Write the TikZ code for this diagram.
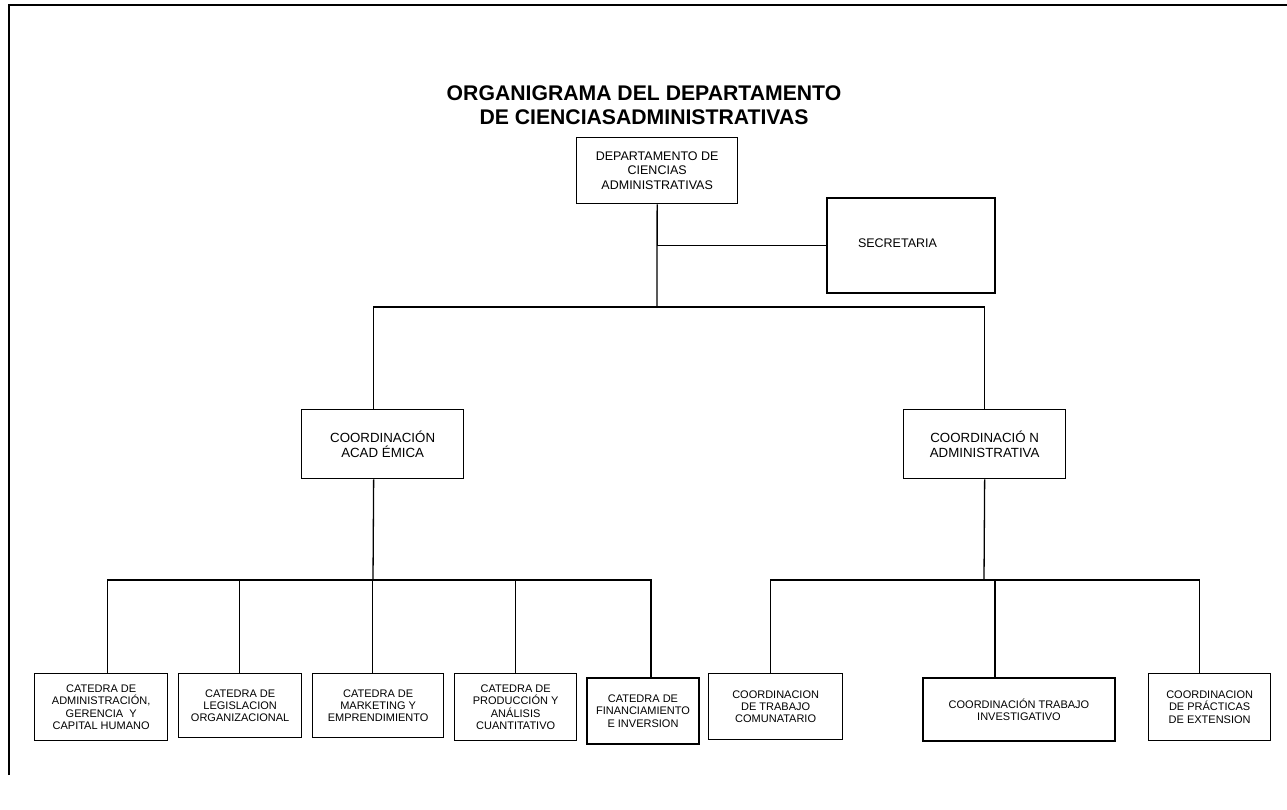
\documentclass[tikz,border=0pt]{standalone}
\usepackage{fontspec}
\setmainfont{Liberation Sans}
\begin{document}
\begin{tikzpicture}[x=1pt,y=-1pt,
  box/.style={draw, line width=1.3pt, align=center, inner sep=1pt, anchor=north west,
              font=\fontsize{12.5}{14.5}\selectfont},
  cbox/.style={box, font=\fontsize{13.3}{15}\selectfont},
  sbox/.style={box, font=\fontsize{11}{12.3}\selectfont},
  heavy/.style={line width=2pt},
  link/.style={line width=1.3pt}]
\useasboundingbox (0,0) rectangle (1287,810);
% frame
\draw[line width=1.3pt] (9,775) -- (9,5) -- (1287,5);
% title
\node[font=\bfseries\fontsize{21.2}{24}\selectfont, align=center] (title) at (644,105)
  {ORGANIGRAMA DEL DEPARTAMENTO\\DE CIENCIASADMINISTRATIVAS};
% upper boxes
\node[box, minimum width=161, minimum height=66] (dep) at (576,137)
  {DEPARTAMENTO DE\\CIENCIAS\\ADMINISTRATIVAS};
\node[box, heavy, minimum width=168, minimum height=95, text width=106, align=left, inner xsep=31] (sec) at (826,197)
  {\raisebox{5pt}{SECRETARIA}};
\node[cbox, minimum width=162, minimum height=69] (ca) at (301,409)
  {COORDINACIÓN\\ACAD ÉMICA};
\node[cbox, minimum width=162, minimum height=69] (cad) at (903,409)
  {COORDINACIÓ N\\ADMINISTRATIVA};
% lower boxes
\node[sbox, minimum width=133, minimum height=67] (c1) at (34,673)
  {CATEDRA DE\\ADMINISTRACIÓN,\\GERENCIA\ \ Y\\CAPITAL HUMANO};
\node[sbox, minimum width=123, minimum height=64] (c2) at (178,673)
  {CATEDRA DE\\LEGISLACION\\ORGANIZACIONAL};
\node[sbox, minimum width=131, minimum height=64] (c3) at (312,673)
  {CATEDRA DE\\MARKETING Y\\EMPRENDIMIENTO};
\node[sbox, minimum width=122, minimum height=67] (c4) at (454,673)
  {CATEDRA DE\\PRODUCCIÓN Y\\ANÁLISIS\\CUANTITATIVO};
\node[sbox, heavy, minimum width=112, minimum height=66] (c5) at (586,677)
  {CATEDRA DE\\FINANCIAMIENTO\\E INVERSION};
\node[sbox, minimum width=134, minimum height=66] (c6) at (708,673)
  {COORDINACION\\DE TRABAJO\\COMUNATARIO};
\node[sbox, heavy, minimum width=192, minimum height=63] (c7) at (922,677)
  {COORDINACIÓN TRABAJO\\INVESTIGATIVO};
\node[sbox, minimum width=122, minimum height=67] (c8) at (1148,673)
  {COORDINACION\\DE PRÁCTICAS\\DE EXTENSION};
% connectors
\coordinate (b1) at (657,307);
\draw[link] (dep.south) -- (b1);
\draw[link] (dep.south |- sec.west) -- (sec.west);
\draw[link] ([xshift=-9pt]ca.north) |- (b1) -| (cad.north);
\coordinate (lb) at (373,580);
\draw[link] ([xshift=-9pt]ca.south) -- (lb);
\draw[link] (lb) -| ([xshift=6.5pt]c1.north);
\draw[link] (lb) -| ([xshift=-0.5pt]c2.north);
\draw[link] (lb) -| ([xshift=-5.5pt]c3.north);
\draw[link] (lb) -| (c4.north);
\draw[link] (lb) -| ([xshift=8pt]c5.north);
\coordinate (rb) at (984,580);
\draw[link] (cad.south) -- (rb);
\draw[link] (rb) -| ([xshift=-5pt]c6.north);
\draw[link] (rb) -| ([xshift=-24pt]c7.north);
\draw[link] (rb) -| ([xshift=-10pt]c8.north);
\end{tikzpicture}
\end{document}
